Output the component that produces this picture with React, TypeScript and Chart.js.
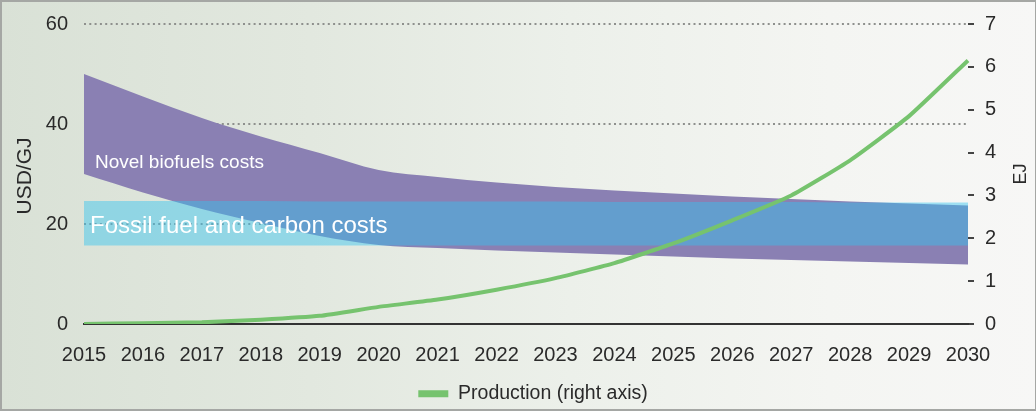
import React, { useEffect, useRef } from 'react';
import { Chart, registerables } from 'chart.js';

Chart.register(...registerables);

// ---- data ----
const years = ['2015', '2016', '2017', '2018', '2019', '2020', '2021', '2022', '2023', '2024', '2025', '2026', '2027', '2028', '2029', '2030'];
const novelLower = [30, 26.3, 23, 20.2, 17.6, 15.8, 15.2, 14.7, 14.3, 13.9, 13.5, 13.1, 12.8, 12.5, 12.2, 11.9];
const novelUpper = [50, 45.5, 41.2, 37.5, 34.2, 30.8, 29.4, 28.3, 27.4, 26.7, 26.1, 25.5, 25.0, 24.5, 24.1, 23.7];
const fossilLower = [15.7, 15.7, 15.7, 15.7, 15.7, 15.7, 15.7, 15.7, 15.7, 15.7, 15.7, 15.7, 15.7, 15.7, 15.7, 15.7];
const fossilUpper = [24.6, 24.6, 24.6, 24.6, 24.5, 24.5, 24.5, 24.5, 24.5, 24.4, 24.4, 24.4, 24.4, 24.3, 24.3, 24.3];
const production = [0, 0.02, 0.04, 0.1, 0.19, 0.4, 0.57, 0.8, 1.07, 1.42, 1.88, 2.42, 3.0, 3.82, 4.85, 6.15];

const leftTicks = [0, 20, 40, 60];
const rightTicks = [0, 1, 2, 3, 4, 5, 6, 7];

const novelLabel = 'Novel biofuels costs';
const fossilLabel = 'Fossil fuel and carbon costs';
const productionLabel = 'Production (right axis)';
const leftTitle = 'USD/GJ';
const rightTitle = 'EJ';

// ---- style ----
const W = 1036;
const H = 411;
const REG = "'Liberation Sans', Arial, sans-serif";
const PURPLE = '#8a80b3';
const BLUE = 'rgba(50,195,240,0.45)';
const GREEN = '#76c36e';
const TEXT = '#2a2a2a';
const TICK_FONT = { family: REG, size: 20 };

const overlay = {
  id: 'overlay',
  afterDatasetsDraw(chart: any) {
    const { ctx, scales } = chart;
    const x = scales.x;
    const y = scales.y;
    ctx.save();
    ctx.fillStyle = '#ffffff';
    ctx.textAlign = 'left';
    ctx.textBaseline = 'alphabetic';
    ctx.font = `19px ${REG}`;
    ctx.fillText(novelLabel, x.getPixelForValue(0) + 11, y.getPixelForValue(31.2));
    ctx.font = `24px ${REG}`;
    ctx.fillText(fossilLabel, x.getPixelForValue(0) + 6, y.getPixelForValue(18.2));
    ctx.restore();
  },
  afterDraw(chart: any) {
    const { ctx, chartArea } = chart;
    const cy = (chartArea.top + chartArea.bottom) / 2;
    ctx.save();
    ctx.fillStyle = TEXT;
    ctx.textAlign = 'center';
    ctx.textBaseline = 'middle';
    ctx.translate(25, cy + 2);
    ctx.rotate(-Math.PI / 2);
    ctx.font = `21px ${REG}`;
    ctx.fillText(leftTitle, 0, 0);
    ctx.restore();
    ctx.save();
    ctx.fillStyle = TEXT;
    ctx.textAlign = 'center';
    ctx.textBaseline = 'middle';
    ctx.translate(1021, cy);
    ctx.rotate(-Math.PI / 2);
    ctx.font = `18px ${REG}`;
    ctx.fillText(rightTitle, 0, 0);
    ctx.restore();
  },
};

export default function App() {
  const ref = useRef<HTMLCanvasElement>(null);

  useEffect(() => {
    document.body.style.margin = '0';
    const canvas = ref.current!;
    const bandCommon = {
      pointRadius: 0,
      borderWidth: 1,
      borderColor: 'transparent',
      cubicInterpolationMode: 'monotone' as const,
    };
    const chart = new Chart(canvas, {
      type: 'line',
      data: {
        labels: years,
        datasets: [
          { ...bandCommon, label: 'novelLow', data: novelLower, fill: false, order: 3, yAxisID: 'y' },
          { ...bandCommon, label: 'novelHigh', data: novelUpper, fill: '-1', backgroundColor: PURPLE, order: 3, yAxisID: 'y' },
          { ...bandCommon, label: 'fossilLow', data: fossilLower, fill: false, order: 2, yAxisID: 'y' },
          { ...bandCommon, label: 'fossilHigh', data: fossilUpper, fill: '-1', backgroundColor: BLUE, order: 2, yAxisID: 'y' },
          {
            label: productionLabel,
            data: production,
            yAxisID: 'y1',
            borderColor: GREEN,
            backgroundColor: GREEN,
            borderWidth: 4,
            pointRadius: 0,
            fill: false,
            tension: 0.15,
            order: 1,
          },
        ],
      },
      options: {
        responsive: false,
        animation: false,
        devicePixelRatio: 1,
        layout: { padding: { left: 30, right: 0, top: 24, bottom: 3 } },
        plugins: {
          tooltip: { enabled: false },
          legend: {
            position: 'bottom',
            maxHeight: 36,
            labels: {
              color: TEXT,
              font: { family: REG, size: 19.5 },
              boxWidth: 30,
              boxHeight: 7,
              padding: 12,
              generateLabels: () => [
                {
                  text: productionLabel,
                  fillStyle: GREEN,
                  strokeStyle: GREEN,
                  lineWidth: 0,
                  hidden: false,
                  datasetIndex: 4,
                  fontColor: TEXT,
                } as any,
              ],
            },
          },
        },
        scales: {
          x: {
            type: 'category',
            offset: false,
            grid: { display: false, drawTicks: false },
            border: { display: true, color: '#333333', width: 2 },
            ticks: {
              color: TEXT,
              font: TICK_FONT,
              padding: 19,
              maxRotation: 0,
              autoSkip: false,
            },
            afterFit: (s: any) => {
              s.height = 48;
            },
          },
          y: {
            position: 'left',
            min: leftTicks[0],
            max: leftTicks[leftTicks.length - 1],
            afterBuildTicks: (s: any) => {
              s.ticks = leftTicks.map((v) => ({ value: v }));
            },
            ticks: { color: TEXT, font: TICK_FONT, padding: 16 },
            grid: {
              drawTicks: false,
              lineWidth: 2,
              color: (c: any) => (c.tick && c.tick.value === 0 ? 'rgba(0,0,0,0)' : '#8e908d'),
            },
            border: { display: false, dash: [2, 3.3] },
            afterFit: (s: any) => {
              s.width = 54;
              s.paddingTop = 0;
              s.paddingBottom = 0;
            },
          },
          y1: {
            position: 'right',
            min: rightTicks[0],
            max: rightTicks[rightTicks.length - 1],
            afterBuildTicks: (s: any) => {
              s.ticks = rightTicks.map((v) => ({ value: v }));
            },
            ticks: { color: TEXT, font: TICK_FONT, padding: 11 },
            grid: { drawOnChartArea: false, drawTicks: true, tickLength: 6, color: '#444444', lineWidth: 2 },
            border: { display: false },
            afterFit: (s: any) => {
              s.width = 68;
              s.paddingTop = 0;
              s.paddingBottom = 0;
            },
          },
        },
      },
      plugins: [overlay],
    });
    return () => {
      chart.destroy();
    };
  }, []);

  return (
    <div
      style={{
        position: 'fixed',
        left: 0,
        top: 0,
        width: W,
        height: H,
        background:
          'linear-gradient(to right, #d9e1d6 0%, #e2e8df 30%, #ecf0ea 55%, #f4f5f2 80%, #f7f7f6 100%)',
      }}
    >
      <canvas ref={ref} width={W} height={H} style={{ display: 'block', width: W, height: H }} />
      <div
        style={{
          position: 'absolute',
          inset: 0,
          boxSizing: 'border-box',
          borderStyle: 'solid',
          borderColor: '#a5a7a4',
          borderWidth: '2px 1px 2px 2px',
          pointerEvents: 'none',
        }}
      />
    </div>
  );
}
